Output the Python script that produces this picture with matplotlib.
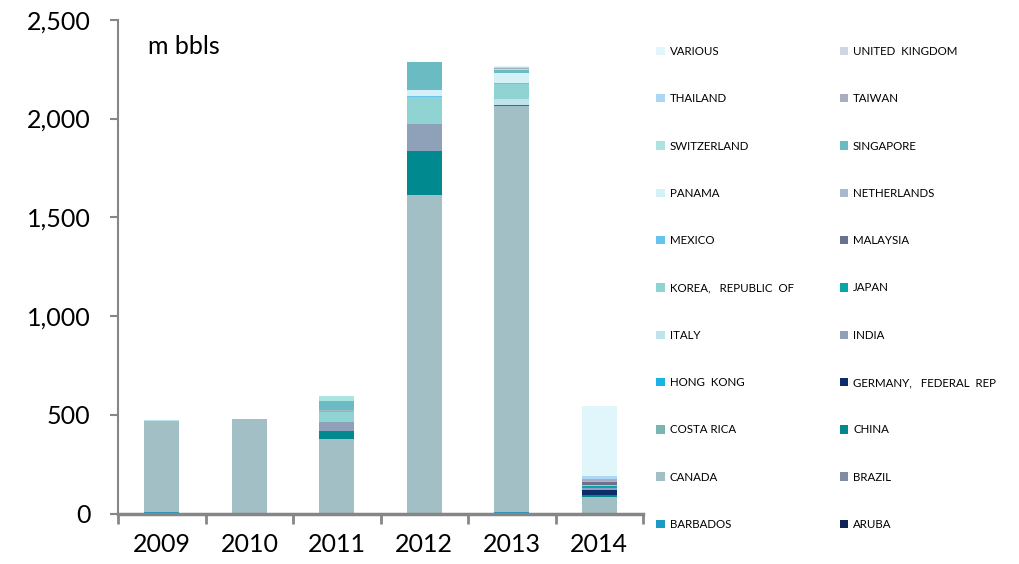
import matplotlib

matplotlib.use("Agg")

import matplotlib.pyplot as plt
import numpy as np
from matplotlib.patches import Patch

plt.rcParams["font.family"] = ["Lato", "DejaVu Sans"]

years = ["2009", "2010", "2011", "2012", "2013", "2014"]

# stacking order, bottom to top (m bbls per year)
countries = [
    "ARUBA", "BARBADOS", "BRAZIL", "CANADA", "CHINA", "COSTA RICA",
    "GERMANY,   FEDERAL  REP", "HONG  KONG", "INDIA", "ITALY", "JAPAN",
    "KOREA,   REPUBLIC  OF", "MALAYSIA", "MEXICO", "NETHERLANDS", "PANAMA",
    "SINGAPORE", "SWITZERLAND", "TAIWAN", "THAILAND", "UNITED  KINGDOM",
    "VARIOUS",
]
colors = [
    "#0c2354", "#1a9bc5", "#7f8ca3", "#a2bfc6", "#00898f", "#7ab5b4",
    "#0b2d6b", "#1ab3e6", "#8fa0b9", "#bfe3ec", "#0aa5a8",
    "#8fd3d2", "#6a7191", "#62c4ef", "#aab8cc", "#d3f1f7",
    "#6bbcc2", "#ade4e1", "#a9adbd", "#abd6f4", "#cfd5e1",
    "#e1f6fb",
]

aruba = [0, 0, 0, 0, 0, 0]
barbados = [8, 0, 0, 0, 10, 0]
brazil = [0, 0, 0, 0, 0, 0]
canada = [462, 480, 378, 1614, 2054, 85]
china = [0, 0, 43, 224, 6, 8]
costa_rica = [0, 0, 0, 0, 0, 0]
germany = [0, 0, 0, 0, 0, 25]
hong_kong = [0, 0, 0, 0, 0, 0]
india = [0, 0, 44, 135, 0, 12]
italy = [4, 0, 0, 0, 28, 0]
japan = [0, 0, 0, 0, 0, 12]
korea = [0, 0, 49, 135, 75, 5]
malaysia = [0, 0, 0, 0, 0, 12]
mexico = [0, 0, 5, 7, 5, 0]
netherlands = [0, 0, 8, 0, 0, 8]
panama = [0, 0, 0, 30, 54, 0]
singapore = [0, 0, 44, 139, 12, 0]
switzerland = [0, 0, 25, 0, 6, 0]
taiwan = [0, 0, 0, 0, 4, 9]
thailand = [0, 0, 0, 0, 0, 13]
united_kingdom = [0, 0, 0, 0, 6, 0]
various = [0, 0, 0, 0, 7, 356]

series = [
    aruba, barbados, brazil, canada, china, costa_rica, germany, hong_kong,
    india, italy, japan, korea, malaysia, mexico, netherlands, panama,
    singapore, switzerland, taiwan, thailand, united_kingdom, various,
]

fig = plt.figure(figsize=(10.19, 5.64), dpi=100)
ax = fig.add_axes([0.116, 0.089, 0.515, 0.876])

x = np.arange(len(years))
bottom = np.zeros(len(years))
for name, vals, c in zip(countries, series, colors):
    ax.bar(x, vals, 0.4, bottom=bottom, color=c, linewidth=0)
    bottom += np.array(vals, dtype=float)

grey = "#868686"
ax.set_xlim(-0.5, 5.5)
ax.set_ylim(0, 2500)
ax.set_yticks(range(0, 2501, 500))
ax.set_yticklabels([f"{v:,}" for v in range(0, 2501, 500)], fontsize=18)
ax.set_xticks(x)
ax.set_xticklabels(years, fontsize=18)
ax.set_xticks(np.arange(-0.5, 6, 1), minor=True)
ax.tick_params(axis="x", which="major", length=0, pad=14)
ax.tick_params(axis="x", which="minor", length=7, width=2, color=grey)
ax.tick_params(axis="y", length=6, width=1.5, color=grey, pad=14)
for s in ["top", "right"]:
    ax.spines[s].set_visible(False)
ax.spines["left"].set_color(grey)
ax.spines["left"].set_linewidth(1.5)
ax.spines["bottom"].set_color(grey)
ax.spines["bottom"].set_linewidth(2.5)

ax.text(0.056, 0.945, "m bbls", transform=ax.transAxes, fontsize=18, va="center")

# legend laid out row-wise, top row = last series
rev = list(zip(countries, colors))[::-1]
order = rev[0::2] + rev[1::2]
handles = [Patch(facecolor=c, edgecolor="none", label=n) for n, c in order]
fig.legend(
    handles=handles,
    ncol=2,
    loc="upper left",
    bbox_to_anchor=(0.634, 0.937),
    frameon=False,
    fontsize=8.3,
    handlelength=0.75,
    handleheight=0.75,
    handletextpad=0.4,
    labelspacing=3.15,
    columnspacing=4.0,
)

fig.savefig("out.png", dpi=100)
